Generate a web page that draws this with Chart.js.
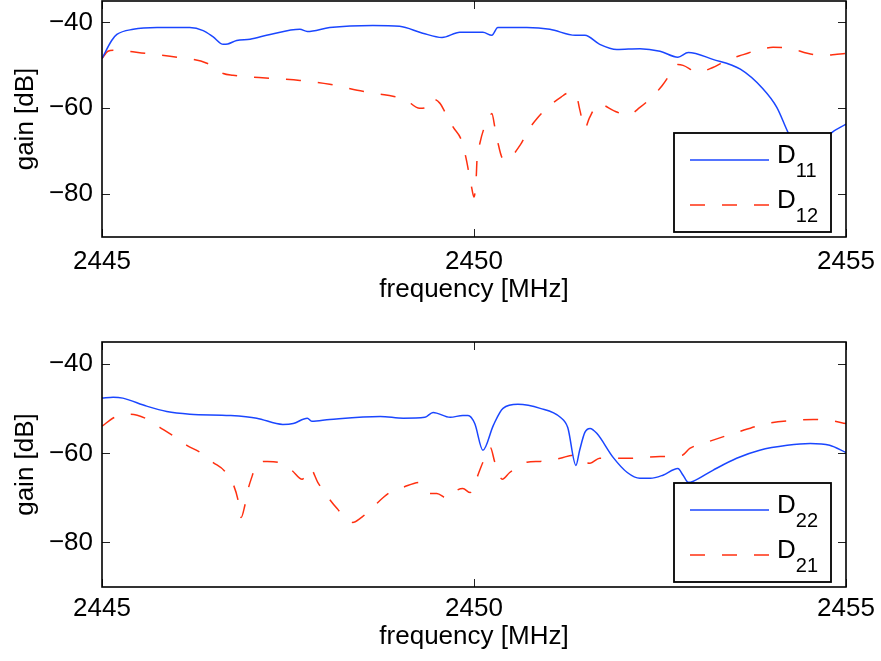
<!DOCTYPE html>
<html>
<head>
  <title>Gain vs frequency</title>
  <style>
    body { margin: 0; background: #fff; }
    .plot { position: absolute; left: 0; width: 881px; }
  </style>
</head>
<body>
  <div class="plot" style="top:0;height:330px"><canvas id="topChart"></canvas></div>
  <div class="plot" style="top:330px;height:331px"><canvas id="bottomChart"></canvas></div>
  <script src="https://cdn.jsdelivr.net/npm/chart.js@4.4.0/dist/chart.umd.min.js"></script>

  <script>
    // tick values shared by both panels
    const xTicks = [2445, 2450, 2455];
    const yTicks = [-80, -60, -40];

    // top panel
    const d11Freq = [2445.0, 2445.13, 2445.2, 2445.42, 2445.74, 2446.18, 2446.36, 2446.49, 2446.63, 2446.69, 2446.81, 2446.99,
      2447.26, 2447.66, 2447.76, 2448.06, 2448.64, 2449.0, 2449.31, 2449.57, 2449.81, 2450.12, 2450.24, 2450.32, 2450.71,
      2451.02, 2451.36, 2451.49, 2451.69, 2451.92, 2452.23, 2452.5, 2452.74, 2452.88, 2453.21, 2453.58, 2453.88, 2454.07,
      2454.22, 2454.45, 2454.8, 2455.0];
    const d11Gain = [-48.4, -44.2, -42.8, -41.6, -41.2, -41.2, -41.9, -43.3, -45.1, -45.0, -44.2, -43.9,
      -42.8, -41.6, -42.1, -41.2, -40.7, -40.9, -42.5, -43.5, -42.3, -42.3, -43.0, -41.2, -41.2,
      -41.6, -43.0, -43.0, -45.1, -46.3, -46.1, -46.7, -48.1, -47.0, -48.6, -50.9, -55.4, -59.8,
      -65.6, -73, -65.8, -63.7];

    const d12Freq = [2445.0, 2445.08, 2445.15, 2445.58, 2446.01, 2446.41, 2446.63, 2446.76, 2447.26, 2447.66, 2448.06, 2448.43,
      2448.74, 2448.91, 2449.07, 2449.27, 2449.34, 2449.41, 2449.54, 2449.61, 2449.72, 2449.83, 2449.89, 2449.97, 2450.0,
      2450.03, 2450.04, 2450.08, 2450.13, 2450.22, 2450.24, 2450.28, 2450.32, 2450.38, 2450.43, 2450.62, 2450.73, 2450.85,
      2451.01, 2451.17, 2451.26, 2451.37, 2451.42, 2451.49, 2451.55, 2451.67, 2451.73, 2451.87, 2452.07, 2452.23, 2452.39,
      2452.53, 2452.67, 2452.74, 2452.81, 2453.01, 2453.21, 2453.4, 2453.62, 2453.84, 2454.02, 2454.25, 2454.48, 2454.69,
      2454.88, 2455.0];
    const d12Gain = [-48.4, -46.7, -46.5, -47.2, -48.1, -49.5, -51.9, -52.3, -53.0, -53.5, -54.4, -55.8,
      -56.7, -57.2, -57.9, -60.0, -59.9, -57.7, -58.8, -60.9, -64.4, -67.4, -71.4, -78.6, -80.7,
      -76, -72.1, -68.1, -64.9, -61.6, -61.2, -64.4, -67.9, -71.6, -72.0, -68.6, -65.1, -62.3,
      -59.5, -57.4, -56.5, -56.7, -60.2, -64.7, -62.3, -59.1, -59.2, -60.5, -61.6, -59.8, -57.4,
      -54.7, -51.2, -49.8, -50.0, -51.6, -50.5, -48.8, -47.5, -46.3, -45.8, -46.0, -47.2, -47.7,
      -47.4, -47.2];

    // bottom panel
    const d22Freq = [2445.0, 2445.15, 2445.28, 2445.6, 2445.87, 2446.18, 2446.72, 2447.08, 2447.43, 2447.57, 2447.76, 2447.82,
      2448.06, 2448.74, 2449.05, 2449.34, 2449.45, 2449.68, 2449.85, 2449.92, 2450.01, 2450.12, 2450.26, 2450.39, 2450.59,
      2450.89, 2451.16, 2451.26, 2451.37, 2451.42, 2451.49, 2451.56, 2451.65, 2451.87, 2452.06, 2452.23, 2452.37, 2452.54,
      2452.74, 2452.81, 2452.88, 2452.94, 2453.21, 2453.53, 2453.84, 2454.21, 2454.52, 2454.78, 2455.0];
    const d22Gain = [-47.6, -47.4, -47.6, -49.4, -50.6, -51.2, -51.5, -52.1, -53.5, -53.3, -52.1, -52.8,
      -52.4, -51.7, -52.1, -51.9, -50.8, -51.9, -51.5, -51.5, -53.3, -59.3, -53.7, -49.9, -49.0,
      -49.9, -51.9, -54.2, -62.7, -59.3, -55.3, -54.4, -55.5, -60.9, -64.3, -65.6, -65.6, -64.9,
      -63.4, -64.9, -66.5, -66.3, -63.8, -61.1, -59.3, -58.2, -57.8, -58.2, -59.8];

    const d21Freq = [2445.0, 2445.17, 2445.38, 2445.58, 2445.78, 2445.95, 2446.14, 2446.32, 2446.49, 2446.65, 2446.77, 2446.83,
      2446.87, 2446.92, 2446.96, 2447.02, 2447.08, 2447.22, 2447.37, 2447.55, 2447.69, 2447.8, 2447.9, 2448.04, 2448.16,
      2448.31, 2448.37, 2448.47, 2448.64, 2448.78, 2448.87, 2449.05, 2449.27, 2449.41, 2449.5, 2449.64, 2449.77, 2449.85,
      2449.95, 2450.01, 2450.12, 2450.22, 2450.28, 2450.38, 2450.48, 2450.71, 2450.89, 2451.16, 2451.33, 2451.42, 2451.56,
      2451.69, 2452.06, 2452.5, 2452.8, 2452.9, 2453.13, 2453.53, 2453.94, 2454.29, 2454.56, 2454.78, 2455.0];
    const d21Gain = [-53.9, -51.9, -51.2, -52.1, -54.2, -56.0, -58.2, -59.8, -62.0, -64.0, -67.2, -70.6,
      -74.4, -71.7, -68.3, -65.0, -62.2, -61.8, -62.0, -63.8, -65.8, -63.4, -66.5, -69.9, -72.4,
      -75.1, -75.5, -74.6, -72.1, -69.9, -68.8, -67.6, -66.5, -69.0, -69.0, -70.1, -68.3, -67.9,
      -68.8, -66.7, -62.0, -58.7, -62.0, -65.8, -64.3, -62.0, -61.8, -61.1, -60.4, -61.6, -62.2,
      -61.1, -61.1, -60.7, -60.4, -58.9, -57.5, -55.3, -53.3, -52.6, -52.4, -52.6, -53.3];

    const blue = '#1a46ff';
    const red = '#ff3010';
    const dash = [15, 17];
    const fontFamily = '"Liberation Sans", Arial, Helvetica, sans-serif';

    Chart.defaults.font.family = fontFamily;
    Chart.defaults.font.size = 26;
    Chart.defaults.color = '#000';

    function toPoints(freq, gain) {
      return freq.map((f, i) => ({ x: f, y: gain[i] }));
    }

    // matlab style box: frame, inward ticks on all sides, legend with subscripts
    const boxPlugin = {
      id: 'matlabBox',
      afterDraw(chart) {
        const ctx = chart.ctx;
        const a = chart.chartArea;
        const xs = chart.scales.x, ys = chart.scales.y;
        ctx.save();

        ctx.strokeStyle = '#222';
        ctx.lineWidth = 1;
        ctx.beginPath();
        xTicks.forEach(v => {
          const px = Math.round(xs.getPixelForValue(v)) + 0.5;
          ctx.moveTo(px, a.bottom); ctx.lineTo(px, a.bottom - 8);
          ctx.moveTo(px, a.top); ctx.lineTo(px, a.top + 8);
        });
        yTicks.forEach(v => {
          const py = Math.round(ys.getPixelForValue(v)) + 0.5;
          ctx.moveTo(a.left, py); ctx.lineTo(a.left + 8, py);
          ctx.moveTo(a.right, py); ctx.lineTo(a.right - 8, py);
        });
        ctx.stroke();

        ctx.strokeStyle = '#000';
        ctx.lineWidth = 1.6;
        ctx.strokeRect(a.left, a.top, a.right - a.left, a.bottom - a.top);

        // legend box
        const w = 157, h = 99;
        const lx = a.right - 15 - w, ly = a.bottom - 5 - h;
        ctx.fillStyle = '#fff';
        ctx.fillRect(lx, ly, w, h);
        ctx.lineWidth = 1.8;
        ctx.strokeRect(lx, ly, w, h);

        chart.data.datasets.forEach((ds, i) => {
          const rowY = ly + 27 + i * 45;
          ctx.strokeStyle = ds.borderColor;
          ctx.lineWidth = ds.borderWidth;
          ctx.setLineDash(ds.borderDash || []);
          ctx.beginPath();
          ctx.moveTo(lx + 16, rowY);
          ctx.lineTo(lx + 95, rowY);
          ctx.stroke();
          ctx.setLineDash([]);

          const parts = ds.label.split('_');
          ctx.fillStyle = '#000';
          ctx.textAlign = 'left';
          ctx.textBaseline = 'alphabetic';
          ctx.font = '26px ' + fontFamily;
          ctx.fillText(parts[0], lx + 103, rowY + 3);
          const mw = ctx.measureText(parts[0]).width;
          ctx.font = '20px ' + fontFamily;
          ctx.fillText(parts[1], lx + 103 + mw, rowY + 17);
        });

        ctx.restore();
      }
    };

    function makeChart(id, series, layout) {
      return new Chart(document.getElementById(id), {
        type: 'line',
        data: {
          datasets: series.map(s => ({
            label: s.label,
            data: toPoints(s.freq, s.gain),
            borderColor: s.color,
            borderWidth: 1.5,
            borderDash: s.dash,
            pointRadius: 0,
            cubicInterpolationMode: 'monotone',
            fill: false
          }))
        },
        options: {
          responsive: true,
          maintainAspectRatio: false,
          animation: false,
          layout: { padding: { top: layout.top, right: 35, left: 0, bottom: 0 } },
          plugins: { legend: { display: false }, tooltip: { enabled: false } },
          scales: {
            x: {
              type: 'linear',
              min: 2445,
              max: 2455,
              grid: { display: false, drawTicks: false },
              border: { display: false },
              afterBuildTicks: scale => { scale.ticks = xTicks.map(v => ({ value: v })); },
              afterFit: scale => {
                scale.height = layout.axisHeight;
                scale.paddingLeft = 0; scale.paddingRight = 0;
              },
              ticks: { padding: layout.tickPad, maxRotation: 0, callback: v => String(v) },
              title: { display: true, text: 'frequency [MHz]', padding: { top: 0, bottom: layout.titlePad } }
            },
            y: {
              min: -90,
              max: -35,
              grid: { display: false, drawTicks: false },
              border: { display: false },
              afterBuildTicks: scale => { scale.ticks = yTicks.map(v => ({ value: v })); },
              afterFit: scale => {
                scale.width = 102;
                scale.paddingTop = 0; scale.paddingBottom = 0;
              },
              ticks: { padding: 9, callback: v => '\u2212' + Math.abs(v) },
              title: { display: true, text: 'gain [dB]', padding: { top: 10, bottom: 0 } }
            }
          }
        },
        plugins: [boxPlugin]
      });
    }

    makeChart('topChart', [
      { label: 'D_11', freq: d11Freq, gain: d11Gain, color: blue, dash: [] },
      { label: 'D_12', freq: d12Freq, gain: d12Gain, color: red, dash: dash }
    ], { top: 1, axisHeight: 93, tickPad: 9, titlePad: 25 });

    makeChart('bottomChart', [
      { label: 'D_22', freq: d22Freq, gain: d22Gain, color: blue, dash: [] },
      { label: 'D_21', freq: d21Freq, gain: d21Gain, color: red, dash: dash }
    ], { top: 12, axisHeight: 74, tickPad: 6, titlePad: 9 });
  </script>
</body>
</html>
